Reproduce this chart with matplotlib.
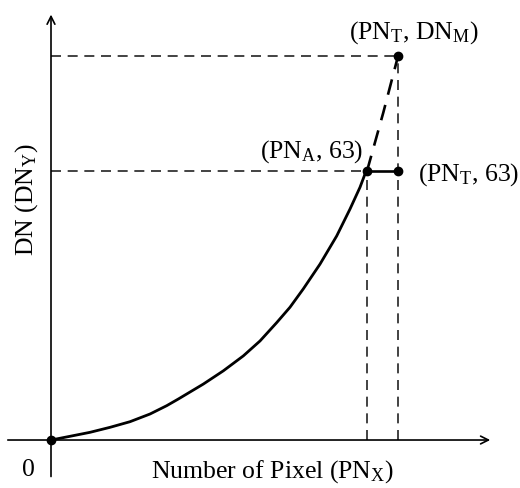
import matplotlib
matplotlib.use("Agg")
import matplotlib.pyplot as plt

plt.rcParams['font.family'] = ['Liberation Serif', 'DejaVu Serif']
plt.rcParams['mathtext.fontset'] = 'custom'
plt.rcParams['mathtext.rm'] = 'Liberation Serif'
plt.rcParams['mathtext.it'] = 'Liberation Serif:italic'

# Data (arbitrary pixel-count units on x, DN on y)
curve_x = [0, 19, 39, 59, 79, 99, 115.7, 127.3, 152.3, 172.3, 192.3, 209, 225.7,
           239, 252.3, 269, 285.7, 299, 309, 314, 316]
curve_y = [0, 0.87, 1.80, 2.97, 4.29, 6.09, 8.04, 9.6, 13.1, 16.2, 19.7, 23.2, 27.5,
           31.1, 35.4, 41.2, 47.8, 54.1, 59.2, 62.3, 63]
ext_x = [316, 332.3, 347]
ext_y = [63, 76.7, 89.9]
PN_A = 316
PN_T = 347
DN_A = 63
DN_M = 89.9

fig = plt.figure(figsize=(5.2, 4.89), dpi=100)
ax = fig.add_axes([0, 0, 1, 1])
ax.set_xlim(-51, 469)
ax.set_ylim(-11.24, 103.3)
ax.axis('off')

# axes with arrows
ax.annotate('', xy=(442, 0), xytext=(-46, 0),
            arrowprops=dict(arrowstyle='->', lw=1.2, color='black', mutation_scale=14))
ax.annotate('', xy=(0, 100.3), xytext=(0, -9.2),
            arrowprops=dict(arrowstyle='->', lw=1.2, color='black', mutation_scale=14))

dash = dict(color='#222222', lw=1.2, linestyle=(0, (6, 4)))
ax.plot([0, PN_T], [DN_M, DN_M], **dash)
ax.plot([0, PN_A], [DN_A, DN_A], **dash)
ax.plot([PN_A, PN_A], [0, DN_A], **dash)
ax.plot([PN_T, PN_T], [0, DN_M], **dash)

ax.plot(curve_x, curve_y, color='black', lw=2, solid_capstyle='round', solid_joinstyle='round')
ax.plot(ext_x, ext_y, color='black', lw=1.9, linestyle=(0, (6, 4)))
ax.plot([PN_A, PN_T], [DN_A, DN_A], color='black', lw=1.9)

ax.plot([0, PN_A, PN_T, PN_T], [0, DN_A, DN_A, DN_M], 'o', color='black', ms=6)

fs = 18.5
ax.text(363, 95.6, r'(PN$_{\mathrm{T}}$, DN$_{\mathrm{M}}$)', fontsize=fs, ha='center', va='center')
ax.text(312, 67.9, r'(PN$_{\mathrm{A}}$, 63)', fontsize=fs, ha='right', va='center')
ax.text(367, 62.3, r'(PN$_{\mathrm{T}}$, 63)', fontsize=fs, ha='left', va='center')
ax.text(221, -7.2, r'Number of Pixel (PN$_{\mathrm{X}}$)', fontsize=fs, ha='center', va='center')
ax.text(-23, -6.8, '0', fontsize=fs, ha='center', va='center')
ax.text(-24, 56.6, r'DN (DN$_{\mathrm{Y}}$)', fontsize=fs, ha='center', va='center', rotation=90)

fig.savefig('out.png', dpi=100)
